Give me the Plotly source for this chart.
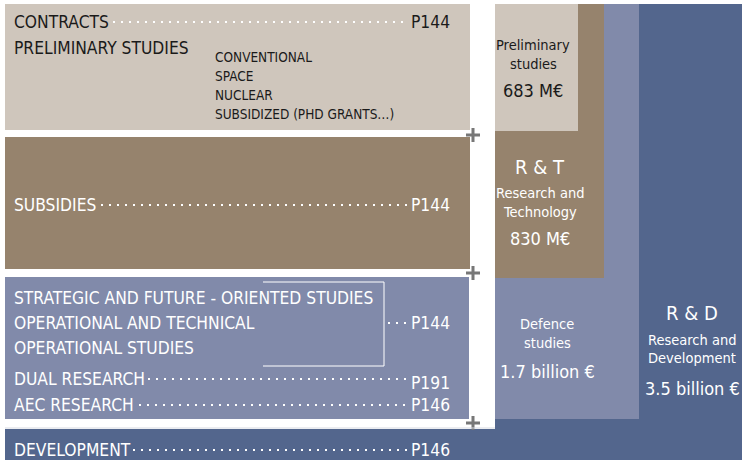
import plotly.graph_objects as go

# left-hand budget lines and the programme they are funded from
row_labels = ["CONTRACTS", "SUBSIDIES", "DUAL RESEARCH", "AEC RESEARCH", "DEVELOPMENT"]
row_programmes = ["P144", "P144", "P191", "P146", "P146"]
contract_heading = "PRELIMINARY STUDIES"
contract_items = ["CONVENTIONAL", "SPACE", "NUCLEAR", "SUBSIDIZED (PHD GRANTS…)"]
study_lines = ["STRATEGIC AND FUTURE - ORIENTED STUDIES", "OPERATIONAL AND TECHNICAL", "OPERATIONAL STUDIES"]
study_programme = "P144"

# nested totals on the right, smallest first
tier_titles = ["Preliminary\nstudies", "R & T", "Defence\nstudies", "R & D"]
tier_subtitles = ["", "Research and\nTechnology", "", "Research and\nDevelopment"]
tier_amounts = ["683 M€", "830 M€", "1.7 billion €", "3.5 billion €"]

FONT = "Liberation Sans Narrow, Arial Narrow, DejaVu Sans Condensed, sans-serif"
BEIGE = "#cfc6bc"
BROWN = "#96836d"
SLATE = "#818aaa"
NAVY = "#53668d"
W, H = 742, 460

fig = go.Figure()
shapes = []
annotations = []


def rect(x0, y0, x1, y1, color):
    shapes.append(dict(type="rect", xref="x", yref="y", x0=x0, y0=y0, x1=x1, y1=y1,
                       fillcolor=color, line=dict(width=0), layer="below"))


def dots(x0, x1, y):
    shapes.append(dict(type="line", xref="x", yref="y", x0=x0, y0=y, x1=x1, y1=y,
                       line=dict(color="white", width=2, dash="2px,6px")))


def text(x, y, s, size, color, anchor="left"):
    annotations.append(dict(x=x, y=y, xref="x", yref="y", text=s, showarrow=False,
                            xanchor=anchor, yanchor="middle",
                            font=dict(family=FONT, size=size, color=color)))


# right-hand nested columns (largest first so the smaller sit on top)
rect(495, 4, W, H, NAVY)
rect(5, 429, W, H, NAVY)
rect(495, 4, 639, 419, SLATE)
rect(495, 4, 604, 278, BROWN)
rect(495, 4, 578, 131, BEIGE)

# left-hand blocks
rect(5, 4, 470, 130, BEIGE)
rect(5, 137, 470, 269, BROWN)
rect(5, 277, 469, 419, SLATE)
shapes.append(dict(type="line", xref="x", yref="y", x0=5, y0=428, x1=495, y1=428,
                   line=dict(color="#d6d9e1", width=1)))

# rows with dotted leaders to the programme number
row_y = [22, 205, 379, 405, 450]
row_end = [110, 98, 145, 136, 130]
row_color = ["#1a1a1a", "white", "white", "white", "white"]
for lab, prog, y, x_end, col in zip(row_labels, row_programmes, row_y, row_end, row_color):
    text(12, y, lab, 17.3, col)
    dots(x_end + 3, 407, y)
    text(452, y + (4 if prog == "P191" else 0), prog, 17.3, col, "right")

text(12, 48, contract_heading, 17.3, "#1a1a1a")
for i, item in enumerate(contract_items):
    text(213, 57 + i * 19, item, 13.5, "#1a1a1a")

for i, line in enumerate(study_lines):
    text(12, 298 + i * 25, line, 17.3, "white")
shapes.append(dict(type="path", xref="x", yref="y", path="M 263 282 L 384 282 L 384 366 L 263 366",
                   line=dict(color="white", width=1)))
dots(388, 407, 323)
text(452, 323, study_programme, 17.3, "white", "right")

# right-hand labels
tier_x = [533, 540, 547, 692]
title_y = [[45, 64], [167], [324, 343], [313]]
sub_y = [[], [193, 212], [], [340, 358]]
amount_y = [90, 238, 371, 388]
tier_color = ["#1a1a1a", "white", "white", "white"]
for k in range(4):
    big = "\n" not in tier_titles[k]
    for s, y in zip(tier_titles[k].split("\n"), title_y[k]):
        text(tier_x[k], y, s, 20 if big else 14.5, tier_color[k], "center")
    if tier_subtitles[k]:
        for s, y in zip(tier_subtitles[k].split("\n"), sub_y[k]):
            text(tier_x[k], y, s, 14.5, tier_color[k], "center")
    text(tier_x[k], amount_y[k], tier_amounts[k], 18, tier_color[k], "center")

# little plus signs between the left blocks
fig.add_scatter(x=[473, 473, 473], y=[135, 273, 423], mode="markers", hoverinfo="skip",
                marker=dict(symbol="cross-thin", size=10, line=dict(color="#777777", width=3)))

fig.update_layout(
    width=W, height=H, margin=dict(l=0, r=0, t=0, b=0),
    paper_bgcolor="white", plot_bgcolor="white", showlegend=False,
    xaxis=dict(range=[0, W], visible=False, fixedrange=True),
    yaxis=dict(range=[H, 0], visible=False, fixedrange=True),
    shapes=shapes, annotations=annotations,
)
# drop the browser's default page margin so the figure fills the window exactly
fig.write_html("out.html", config={"displayModeBar": False},
               post_script="document.body.style.margin='0';")
